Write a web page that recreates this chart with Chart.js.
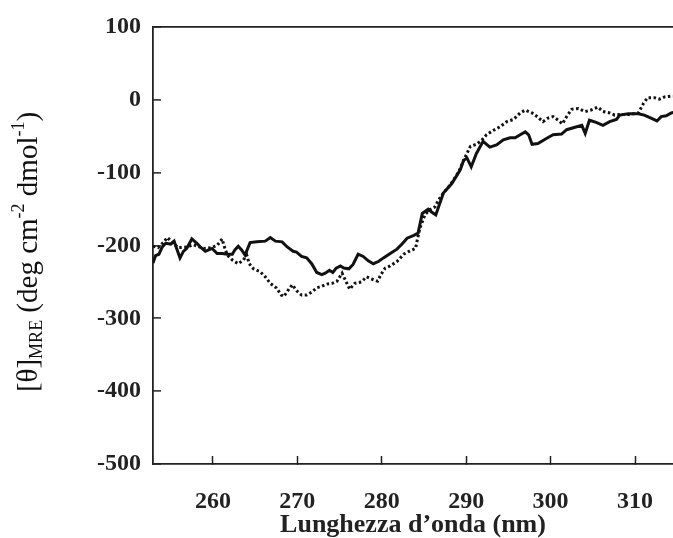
<!DOCTYPE html>
<html>
<head>
<meta charset="utf-8">
<script src="https://cdn.jsdelivr.net/npm/chart.js@4"></script>
<style>
html,body{margin:0;padding:0;background:#fff;}
canvas{display:block;}
</style>
</head>
<body>
<canvas id="c" width="673" height="538"></canvas>
<script>
// Wavelength (nm) and mean residue ellipticity values
const solidWavelength = [252.9,253.2,253.6,254.0,254.4,255.0,255.4,255.7,256.1,256.5,256.9,257.5,258.1,258.5,259.1,259.5,259.9,260.5,261.1,261.7,262.3,262.6,263.0,263.4,263.8,264.4,265.2,266.2,266.8,267.4,268.2,268.8,269.5,269.9,270.5,271.1,271.7,272.3,272.9,273.3,273.8,274.2,274.6,275.1,275.5,276.1,276.6,277.2,277.8,278.4,279.0,279.6,280.2,281.0,281.8,282.4,283.0,283.8,284.3,284.8,285.5,285.9,286.4,287.3,288.3,289.3,289.7,290.1,290.6,291.2,292.0,292.8,293.6,294.4,295.2,295.8,296.4,297.0,297.4,297.8,298.5,299.5,300.3,301.3,301.9,303.1,303.7,304.1,304.6,305.4,306.2,307.0,307.8,308.2,309.2,310.4,311.1,311.9,312.6,313.1,313.7,314.3,314.6];
const solidTheta = [-224,-214,-212,-202,-197,-198,-194,-204,-217,-208,-204,-191,-197,-202,-208,-206,-204,-211,-211,-212,-212,-206,-201,-206,-213,-196,-195,-194,-189,-194,-195,-202,-208,-209,-215,-217,-225,-237,-240,-238,-234,-237,-231,-228,-231,-232,-226,-212,-215,-221,-225,-222,-217,-211,-205,-198,-190,-186,-183,-156,-150,-154,-158,-128,-115,-96,-83,-80,-92,-74,-57,-65,-62,-55,-52,-52,-48,-44,-48,-61,-60,-53,-48,-47,-41,-37,-35,-46,-28,-31,-35,-30,-27,-21,-19,-19,-21,-25,-29,-23,-22,-18,-17];
const dottedWavelength = [252.9,253.5,254.2,254.6,255.2,255.9,256.9,257.7,258.9,259.7,260.5,261.1,261.3,261.7,262.3,263.0,263.6,264.0,264.3,264.8,265.6,266.2,266.8,267.5,268.1,268.4,268.8,269.4,269.9,270.5,271.1,271.7,272.3,272.9,273.5,274.1,274.7,275.3,275.7,276.2,276.8,277.6,278.2,278.8,279.5,279.9,280.4,281.0,281.8,282.6,283.4,284.0,284.2,284.5,285.1,285.7,286.3,286.7,287.3,288.1,289.1,289.9,290.5,291.2,291.8,292.4,293.2,294.0,294.8,295.6,296.4,297.0,297.8,298.3,299.1,299.7,300.3,300.9,301.4,301.9,302.5,303.3,304.1,304.8,305.6,306.2,307.0,307.6,308.4,309.4,310.4,311.0,311.5,312.3,312.9,313.5,314.3,314.6];
const dottedTheta = [-201,-203,-195,-189,-196,-203,-202,-199,-204,-203,-200,-191,-200,-213,-220,-225,-220,-213,-225,-232,-236,-243,-252,-258,-268,-270,-263,-254,-262,-268,-268,-264,-258,-256,-253,-252,-249,-238,-248,-260,-252,-250,-243,-246,-249,-240,-231,-228,-222,-212,-207,-204,-193,-177,-158,-151,-147,-138,-128,-117,-99,-78,-64,-61,-56,-48,-42,-37,-30,-27,-18,-14,-18,-22,-30,-25,-23,-28,-33,-23,-13,-12,-16,-14,-10,-16,-18,-21,-20,-20,-18,-5,3,3,1,4,5,5];
const xTicks = [260,270,280,290,300,310];
const yTicks = [100,0,-100,-200,-300,-400,-500];
const xTitle = 'Lunghezza d\u2019onda (nm)';

const toPoints = (xs, ys) => xs.map((x, i) => ({x: x, y: ys[i]}));

const axisColor = '#222';

const yTitlePlugin = {
  id: 'yTitle',
  afterDraw(chart) {
    const ctx = chart.ctx;
    ctx.save();
    ctx.translate(29, 252);
    ctx.rotate(-Math.PI / 2);
    ctx.fillStyle = '#111';
    ctx.textBaseline = 'middle';
    const big = '29px "Liberation Serif", "Times New Roman", serif';
    const small = '18px "Liberation Serif", "Times New Roman", serif';
    const parts = [
      {t: '[\u03B8]', f: big, dy: 0},
      {t: 'MRE', f: small, dy: 8},
      {t: ' (deg cm', f: big, dy: 0},
      {t: '-2', f: small, dy: -10},
      {t: ' dmol', f: big, dy: 0},
      {t: '-1', f: small, dy: -10},
      {t: ')', f: big, dy: 0}
    ];
    let total = 0;
    parts.forEach(p => { ctx.font = p.f; p.w = ctx.measureText(p.t).width; total += p.w; });
    let x = -total / 2;
    parts.forEach(p => { ctx.font = p.f; ctx.textAlign = 'left'; ctx.fillText(p.t, x, p.dy); x += p.w; });
    ctx.restore();
  }
};

new Chart(document.getElementById('c'), {
  type: 'line',
  data: {
    datasets: [
      {
        label: 'solid',
        data: toPoints(solidWavelength, solidTheta),
        borderColor: '#111',
        borderWidth: 3,
        pointRadius: 0,
        tension: 0,
        fill: false
      },
      {
        label: 'dotted',
        data: toPoints(dottedWavelength, dottedTheta),
        borderColor: '#111',
        borderWidth: 3,
        borderDash: [2.5, 2.5],
        borderCapStyle: 'butt',
        pointRadius: 0,
        tension: 0,
        fill: false
      }
    ]
  },
  options: {
    responsive: false,
    animation: false,
    devicePixelRatio: 1,
    layout: {padding: {top: 27, right: 0, bottom: 0, left: 0}},
    plugins: {legend: {display: false}, tooltip: {enabled: false}},
    scales: {
      x: {
        type: 'linear',
        min: 252.9,
        max: 314.5,
        afterBuildTicks: (s) => { s.ticks = xTicks.map(v => ({value: v})); },
        afterFit: (s) => { s.height = 74; s.paddingLeft = 0; s.paddingRight = 0; },
        ticks: {
          color: '#222',
          font: {family: '"Liberation Serif", "Times New Roman", serif', size: 24, weight: 'bold'},
          padding: 31,
          maxRotation: 0,
          autoSkip: false
        },
        grid: {drawOnChartArea: false, drawTicks: true, tickLength: -8, tickColor: axisColor, tickWidth: 1.5},
        border: {display: true, color: axisColor, width: 1.8},
        title: {
          display: true,
          text: xTitle,
          color: '#222',
          font: {family: '"Liberation Serif", "Times New Roman", serif', size: 26, weight: 'bold', lineHeight: 1.0},
          padding: {top: 0, bottom: 0}
        }
      },
      y: {
        min: -500,
        max: 100,
        afterBuildTicks: (s) => { s.ticks = yTicks.map(v => ({value: v})); },
        afterFit: (s) => { s.width = 153; s.paddingTop = 0; s.paddingBottom = 0; },
        ticks: {
          color: '#222',
          font: {family: '"Liberation Serif", "Times New Roman", serif', size: 24, weight: 'bold'},
          padding: 20,
          autoSkip: false
        },
        grid: {
          drawOnChartArea: true,
          drawTicks: true,
          tickLength: -8,
          color: (c) => (c.tick && c.tick.value === 100) ? axisColor : 'rgba(0,0,0,0)',
          lineWidth: 1.8,
          tickColor: axisColor,
          tickWidth: 1.5
        },
        border: {display: true, color: axisColor, width: 1.8}
      }
    }
  },
  plugins: [yTitlePlugin]
});
</script>
</body>
</html>
